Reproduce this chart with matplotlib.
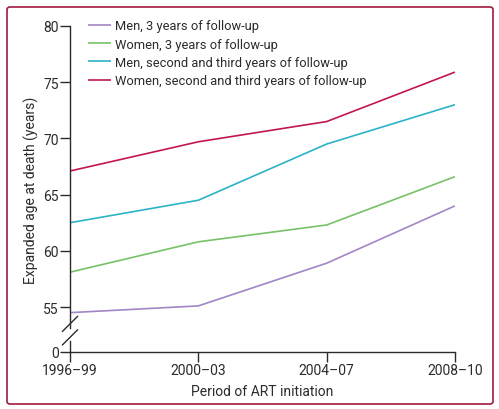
import numpy as np
import matplotlib
matplotlib.use("Agg")
import matplotlib.pyplot as plt
from matplotlib.patches import FancyBboxPatch

periods = ["1996–99", "2000–03", "2004–07", "2008–10"]
men_3y = [54.5, 55.1, 58.9, 64.0]
women_3y = [58.1, 60.8, 62.3, 66.6]
men_2nd3rd = [62.5, 64.5, 69.5, 73.0]
women_2nd3rd = [67.1, 69.7, 71.5, 75.9]

series_labels = [
    "Men, 3 years of follow-up",
    "Women, 3 years of follow-up",
    "Men, second and third years of follow-up",
    "Women, second and third years of follow-up",
]
series_colors = ["#a386c6", "#77c266", "#2bb3c6", "#c2174b"]

# y axis is broken: 0 is drawn a little below 55
zero_pos = 51.0
ytick_vals = [zero_pos, 55, 60, 65, 70, 75, 80]
ytick_labels = ["0", "55", "60", "65", "70", "75", "80"]

plt.rcParams["font.family"] = ["Roboto", "DejaVu Sans"]
text_color = "#2b2b2b"
fs = 10

fig = plt.figure(figsize=(4.99, 4.10), dpi=100)
ax = fig.add_axes([70 / 499, (410 - 353) / 410, (455 - 70) / 499, (353 - 27) / 410])

x = np.arange(len(periods))
for vals, lab, col in zip([men_3y, women_3y, men_2nd3rd, women_2nd3rd], series_labels, series_colors):
    ax.plot(x, vals, color=col, linewidth=1.2, label=lab, solid_capstyle="butt")

ax.set_xlim(0, 3)
ax.set_ylim(zero_pos, 80)
ax.set_xticks(x)
ax.set_xticklabels(periods)
ax.set_yticks(ytick_vals)
ax.set_yticklabels(ytick_labels)

for s in ["top", "right", "left"]:
    ax.spines[s].set_visible(False)
ax.spines["bottom"].set_linewidth(1.0)
ax.spines["bottom"].set_color(text_color)
ax.tick_params(axis="both", direction="out", length=7, width=1.0, color=text_color,
               labelsize=fs, labelcolor=text_color, pad=1)

# left spine drawn in two pieces with a break
gap_lo, gap_hi = 52.0, 53.1
ax.plot([0, 0], [zero_pos, gap_lo], color=text_color, lw=1.0, clip_on=False)
ax.plot([0, 0], [gap_hi, 80], color=text_color, lw=1.0, clip_on=False)
dx = 7.5 * 3 / 385
dy = 7.5 / 11.3
for yc in [53.5, 52.3]:
    ax.plot([-dx, dx], [yc - dy, yc + dy], color=text_color, lw=1.0, clip_on=False)

ax.set_xlabel("Period of ART initiation", fontsize=fs, color=text_color, labelpad=5)
ax.set_ylabel("Expanded age at death (years)", fontsize=fs, color=text_color, labelpad=3)

ax.legend(loc="upper left", bbox_to_anchor=(0.033, 1.037), frameon=False, fontsize=9.3,
          handlelength=1.8, handletextpad=0.3, labelspacing=0.42, borderaxespad=0,
          labelcolor=text_color)

frame = FancyBboxPatch((7 / 499, 5 / 410), 486 / 499, 397 / 410,
                       boxstyle="round,pad=0,rounding_size=0.006",
                       transform=fig.transFigure, fill=False, edgecolor="#a21a3f", linewidth=1.2)
fig.patches.append(frame)

fig.savefig("out.png", dpi=100)
